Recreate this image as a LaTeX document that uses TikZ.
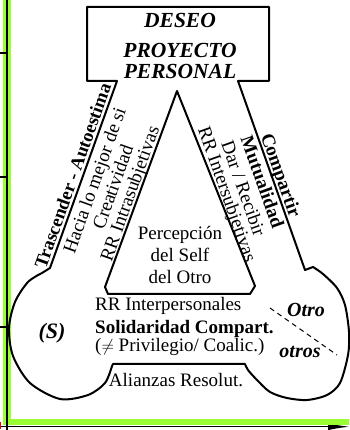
\documentclass[tikz,border=0pt]{standalone}
\usepackage{fontspec}
\setmainfont{Liberation Serif}
\usetikzlibrary{arrows.meta}
\definecolor{lime}{RGB}{153,255,51}
\begin{document}
\begin{tikzpicture}[x=1pt,y=1pt,
  outl/.style={line width=2pt, line join=round},
  boxt/.style={font=\fontsize{21.5}{23}\selectfont\bfseries\itshape, inner sep=0pt, anchor=base},
  legt/.style={font=\fontsize{19}{21}\selectfont, inner sep=0pt, anchor=base},
  legb/.style={legt, font=\fontsize{19}{21}\selectfont\bfseries},
  txt/.style={font=\fontsize{19}{21}\selectfont, inner sep=0pt, anchor=base},
  bit/.style={font=\fontsize{20}{22}\selectfont\bfseries\itshape, inner sep=0pt, anchor=base}]
\useasboundingbox (0,0) rectangle (349,430);
% frame
\coordinate (ax0) at (0,3.3);
\coordinate (ax1) at (350,3.3);
\draw[line width=1.5pt, -{Latex[length=22pt,width=7pt]}] (ax0) -- (ax1);
\fill[lime] (3,5) rectangle (11,430);
\fill[lime] (3,5) rectangle (349,10.7);
\coordinate (vy0) at (7,0);
\coordinate (vy1) at (7,430);
\draw[line width=1.3pt] (vy0) -- (vy1);
\foreach \yy in {377,253,103} {\draw[line width=2pt] (0,\yy) -- (7,\yy);}
\draw[red, line width=1pt] (0.5,1) -- (0.5,8);
% outline
\coordinate (F) at (117,349);
\coordinate (A) at (87,349);
\coordinate (B) at (87,423);
\coordinate (C) at (269,423);
\coordinate (D) at (269,349);
\coordinate (E) at (238,349);
\coordinate (R0) at (305,160);
\coordinate (L0) at (50,162);
\draw[outl] (F) -- (A) -- (B) -- (C) -- (D) -- (E) -- (R0) -- (313,163)
  -- plot[smooth] coordinates {(313,163) (323,156) (337,142) (345,125) (349,98) (348,75) (340,47) (327,35) (307,30) (287,32) (270,38) (257,50) (248,60) (245,66)}
  -- (113,66)
  -- plot[smooth] coordinates {(112,64) (105,47) (88,35) (60,31) (30,47) (13,74) (9,102) (15,128) (28,148) (42,157)}
  -- (L0) -- cycle;
% inner triangle
\coordinate (T1) at (177,339);
\coordinate (T2) at (255,144);
\coordinate (T3) at (250,136);
\coordinate (T4) at (108,136);
\coordinate (T5) at (105,143);
\draw[outl] (T1) -- (T2) -- (T3) -- (T4) -- (T5) -- cycle;
% dashed divider
\coordinate (d0) at (270,122);
\coordinate (d1) at (337,75);
\draw[line width=1pt, dash pattern=on 5pt off 4pt] (d0) -- (d1);
% box text
\node[boxt] (b1) at (180,402) {DESEO};
\node[boxt] (b2) at (180,372) {PROYECTO};
\node[boxt] (b3) at (180,351) {PERSONAL};
% left leg
\node[legb, rotate=70.3, font=\fontsize{18.5}{21}\selectfont\bfseries] (l1) at (78.6,252.0) {Trascender - Autoestima};
\node[legt, rotate=70.3] (l2) at (100.4,247.4) {Hacia lo mejor de si};
\node[legt, rotate=70.3] (l3) at (118.7,240.9) {Creatividad};
\node[legt, rotate=70.3] (l4) at (135.6,234.8) {RR Intrasubjetivas};
% right leg
\node[legb, rotate=-70.5] (r1) at (275.3,252.7) {Compartir};
\node[legb, rotate=-70.5] (r2) at (256.5,246.1) {Mutualidad};
\node[legt, rotate=-70.5] (r3) at (237.6,239.4) {Dar / Recibir};
\node[legt, rotate=-70.5] (r4) at (221.6,233.8) {RR Intersubjetivas};
% triangle text
\node[txt] (p1) at (180,190) {Percepción};
\node[txt] (p2) at (180,168) {del Self};
\node[txt] (p3) at (180,146) {del Otro};
% bottom text
\node[txt, anchor=base west] (s1) at (95,119) {RR Interpersonales};
\node[txt, anchor=base west, font=\fontsize{19}{21}\selectfont\bfseries] (s2) at (95,96) {Solidaridad Compart.};
\node[txt, anchor=base west] (s3) at (95,78) {(${\neq}$ Privilegio/ Coalic.)};
\node[txt] (s4) at (176,43) {Alianzas Resolut.};
% circles
\node[bit, font=\fontsize{22}{24}\selectfont\bfseries\itshape] (S) at (52,91) {(S)};
\node[bit] (o1) at (306,113) {Otro};
\node[bit] (o2) at (300,72) {otros};
\end{tikzpicture}
\end{document}
